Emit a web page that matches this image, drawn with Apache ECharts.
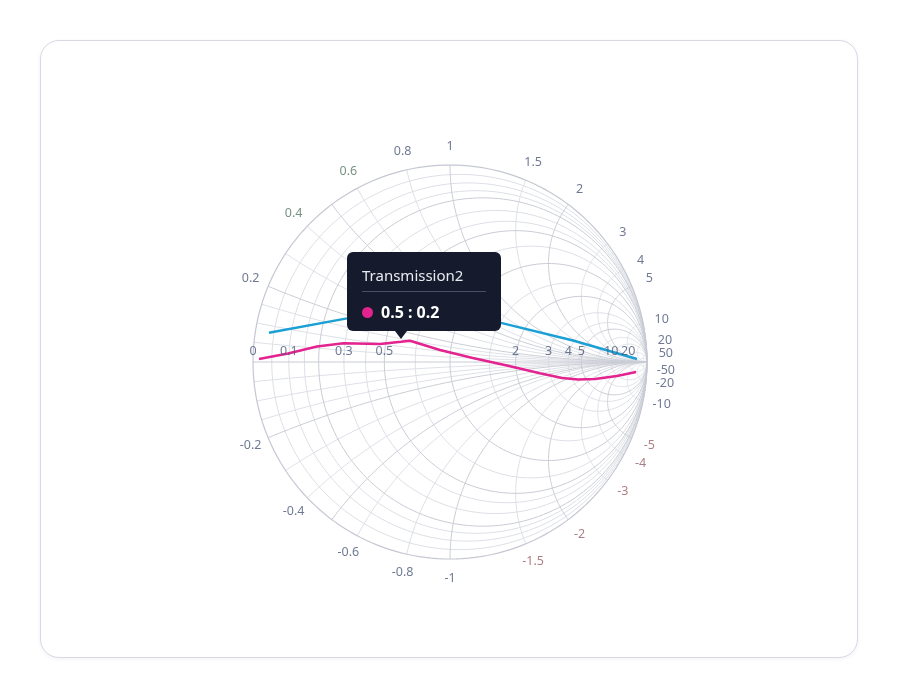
<!DOCTYPE html>
<html>
<head>
<meta charset="utf-8">
<script src="https://cdn.jsdelivr.net/npm/echarts/dist/echarts.min.js"></script>
<style>
html,body{margin:0;padding:0;background:#ffffff;}
#card{position:absolute;left:40px;top:40px;width:816px;height:616px;border:1.5px solid #d9d8e5;border-radius:19px;background:#fff;box-shadow:0 1px 4px rgba(40,40,90,0.06);}
#chart{position:absolute;left:0;top:0;width:900px;height:700px;}
</style>
</head>
<body>
<div id="card"></div>
<div id="chart"></div>
<script>
// ---- grid values (normalised impedance) ----
const rGridMajor = [0.2, 0.5, 1, 2, 5];
const rGridMinor = [0.05, 0.1, 0.15, 0.3, 0.4, 0.7, 1.5, 3, 4, 7, 10, 20, 50];
const xGridMajor = [0.2, 0.5, 1, 2, 5];
const xGridMinor = [0.05, 0.1, 0.15, 0.3, 0.4, 0.6, 0.8, 1.5, 3, 4, 10, 20, 50];

// ---- tick labels ----
const realTicks = [0, 0.1, 0.3, 0.5, 2, 3, 4, 5, 10, 20];
const imagTicks = [0.2, 0.4, 0.6, 0.8, 1, 1.5, 2, 3, 4, 5, 10, 20, 50,
                   -0.2, -0.4, -0.6, -0.8, -1, -1.5, -2, -3, -4, -5, -10, -20, -50];

// ---- series: [resistance, reactance] ----
const seriesNames = ['Transmission1', 'Transmission2'];
const transmission1 = [[0.036, 0.080], [0.286, 0.187], [0.642, 0.423], [1.50, 0.669], [3.91, 1.43], [35.2, 10.8]];
const transmission2 = [[0.0154, 0.0079], [0.097, 0.026], [0.191, 0.056], [0.293, 0.080], [0.469, 0.099],
                       [0.591, 0.131], [0.649, 0.148], [0.897, 0.110], [1.26, 0.052], [1.81, -0.070],
                       [2.64, -0.385], [3.48, -0.842], [4.37, -1.36], [5.84, -2.24], [9.76, -5.02], [18.6, -17.9]];

// ---- tooltip readout ----
const tooltipSeries = 1;
const tooltipIndex = 5;
const tooltipReadout = ['0.5', '0.2'];

function gamma(r, x) {
  const d = (r + 1) * (r + 1) + x * x;
  return [(r * r + x * x - 1) / d, 2 * x / d];
}
function rCircle(r) {
  const c = r / (1 + r), rad = 1 / (1 + r), pts = [];
  for (let i = 0; i <= 200; i++) {
    const t = 2 * Math.PI * i / 200;
    pts.push([c + rad * Math.cos(t), rad * Math.sin(t)]);
  }
  return pts;
}
function xArc(x) {
  const ax = Math.abs(x), sgn = x < 0 ? -1 : 1;
  const cy = 1 / ax, rad = 1 / ax;
  const g0 = gamma(0, ax);
  let a0 = Math.atan2(g0[1] - cy, g0[0] - 1);
  if (a0 < 0) a0 += 2 * Math.PI;
  const a1 = 1.5 * Math.PI;
  const pts = [];
  for (let i = 0; i <= 160; i++) {
    const a = a0 + (a1 - a0) * i / 160;
    pts.push([1 + rad * Math.cos(a), sgn * (cy + rad * Math.sin(a))]);
  }
  return pts;
}
function gridLines(rs, xs) {
  const out = [];
  rs.forEach(r => out.push({ coords: rCircle(r) }));
  xs.forEach(x => { out.push({ coords: xArc(x) }); out.push({ coords: xArc(-x) }); });
  return out;
}
function tickColor(v) {
  if (v === 0.4 || v === 0.6) return '#557564';
  if (v <= -1.5 && v >= -5) return '#965f66';
  return '#4b5878';
}

const R = 197, CX = 450, CY = 362, SPAN = 1.2;
const labelRadius = 216 / R;
const realLabelOffset = 11 / R;

const labelData = [];
realTicks.forEach(v => {
  labelData.push({ name: String(v), value: [gamma(v, 0)[0], realLabelOffset], label: { color: tickColor(v) } });
});
imagTicks.forEach(v => {
  const g = gamma(0, v);
  labelData.push({ name: String(v), value: [g[0] * labelRadius, g[1] * labelRadius], label: { color: tickColor(v) } });
});

const chart = echarts.init(document.getElementById('chart'), null, { renderer: 'canvas' });
const lineColors = ['#1c9fd4', '#e3238f'];

const option = {
  animation: false,
  grid: { left: CX - SPAN * R, top: CY - SPAN * R, width: 2 * SPAN * R, height: 2 * SPAN * R, outerBoundsMode: 'none', containLabel: false },
  xAxis: { type: 'value', min: -SPAN, max: SPAN, show: false },
  yAxis: { type: 'value', min: -SPAN, max: SPAN, show: false },
  tooltip: {
    trigger: 'item',
    triggerOn: 'none',
    alwaysShowContent: true,
    transitionDuration: 0,
    backgroundColor: 'transparent',
    borderWidth: 0,
    padding: 0,
    extraCssText: 'box-shadow:none;',
    position: function (point) { return [point[0] - 54, point[1] - 90]; },
    formatter: function (params) {
      const c = lineColors[tooltipSeries];
      return '<div style="position:relative;width:154px;height:79px;box-sizing:border-box;background:#151b2c;border-radius:6px;padding:14px 15px 0 15px;font-family:\'Noto Sans\',sans-serif;">' +
        '<div style="font-size:15px;line-height:18px;color:#e8eaf0;">' + seriesNames[tooltipSeries] + '</div>' +
        '<div style="height:1px;background:#4a5064;margin-top:7px;"></div>' +
        '<div style="margin-top:10px;height:20px;line-height:20px;display:flex;align-items:center;">' +
          '<span style="display:inline-block;width:11px;height:11px;border-radius:50%;background:' + c + ';margin-right:8px;"></span>' +
          '<span style="font-size:16px;font-weight:700;color:#ffffff;">' + tooltipReadout[0] + ' : ' + tooltipReadout[1] + '</span>' +
        '</div>' +
        '<div style="position:absolute;left:48px;bottom:-8px;width:0;height:0;border-left:6px solid transparent;border-right:6px solid transparent;border-top:8px solid #151b2c;"></div>' +
      '</div>';
    }
  },
  series: [
    {
      type: 'lines', coordinateSystem: 'cartesian2d', polyline: true, silent: true, z: 1,
      lineStyle: { color: '#dcdfe5', width: 1, opacity: 1 },
      data: gridLines(rGridMinor, xGridMinor)
    },
    {
      type: 'lines', coordinateSystem: 'cartesian2d', polyline: true, silent: true, z: 2,
      lineStyle: { color: '#c9ccd4', width: 1, opacity: 1 },
      data: gridLines(rGridMajor, xGridMajor).concat([{ coords: [[-1, 0], [1, 0]] }])
    },
    {
      type: 'lines', coordinateSystem: 'cartesian2d', polyline: true, silent: true, z: 2,
      lineStyle: { color: '#c5c8d2', width: 1.2, opacity: 1 },
      data: [{ coords: rCircle(0) }]
    },
    {
      name: seriesNames[0], type: 'line', z: 5, clip: false,
      data: transmission1.map(p => gamma(p[0], p[1])),
      showSymbol: true, symbol: 'circle', symbolSize: 4, itemStyle: { color: lineColors[0], opacity: 0 },
      lineStyle: { color: lineColors[0], width: 2.5 }
    },
    {
      name: seriesNames[1], type: 'line', z: 6, clip: false,
      data: transmission2.map(p => gamma(p[0], p[1])),
      showSymbol: true, symbol: 'circle', symbolSize: 4, itemStyle: { color: lineColors[1], opacity: 0 },
      lineStyle: { color: lineColors[1], width: 2.5 }
    },
    {
      type: 'scatter', z: 7, silent: true, clip: false, symbolSize: 0,
      label: { show: true, position: 'inside', formatter: '{b}', fontFamily: 'Noto Sans', fontSize: 12.5 },
      data: labelData
    }
  ]
};
chart.setOption(option);
chart.dispatchAction({ type: 'showTip', seriesIndex: 3 + tooltipSeries, dataIndex: tooltipIndex });
setTimeout(function () {
  chart.dispatchAction({ type: 'showTip', seriesIndex: 3 + tooltipSeries, dataIndex: tooltipIndex });
}, 50);
</script>
</body>
</html>
